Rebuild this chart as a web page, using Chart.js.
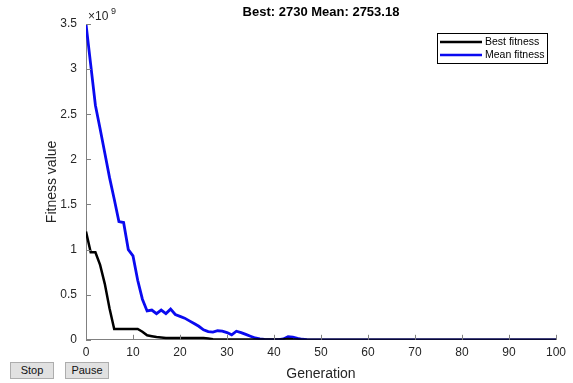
<!DOCTYPE html>
<html>
<head>
<meta charset="utf-8">
<script src="https://cdn.jsdelivr.net/npm/chart.js@4.4.1/dist/chart.umd.min.js"></script>
<style>
  html, body { margin: 0; padding: 0; background: #fff; }
  #wrap { position: relative; width: 573px; height: 383px; }
  canvas { position: absolute; left: 0; top: 0; }
  .btn {
    position: absolute; top: 362px; width: 44px; height: 17px;
    background: #e1e1e1; border: 1px solid #adadad; box-sizing: border-box;
    font: 11px "Liberation Sans", Arial, sans-serif; color: #111;
    text-align: center; line-height: 15px;
  }
</style>
</head>
<body>
<div id="wrap">
  <canvas id="ga" width="573" height="383"></canvas>
  <div class="btn" style="left:10px">Stop</div>
  <div class="btn" style="left:65px">Pause</div>
</div>
<script>
// --- Data (fitness in units of 1e9) ---
const generations = Array.from({ length: 101 }, (_, i) => i);

const bestFitness = [
  1.20, 0.97, 0.97, 0.83, 0.62, 0.35, 0.12, 0.12, 0.12, 0.12,
  0.12, 0.12, 0.09, 0.05, 0.04, 0.03, 0.025, 0.02, 0.02, 0.02,
  0.02, 0.02, 0.02, 0.02, 0.02, 0.02, 0.015, 0.005, 0.003, 0.002,
  0.002, 0.002, 0.002, 0.002, 0.002, 0.002, 0.002, 0.002, 0.002, 0.002,
  0.002, 0.002, 0.005, 0.01, 0.005, 0.002, 0, 0, 0, 0,
  0, 0, 0, 0, 0, 0, 0, 0, 0, 0,
  0, 0, 0, 0, 0, 0, 0, 0, 0, 0,
  0, 0, 0, 0, 0, 0, 0, 0, 0, 0,
  0, 0, 0, 0, 0, 0, 0, 0, 0, 0,
  0, 0, 0, 0, 0, 0, 0, 0, 0, 0,
  0
];

const meanFitness = [
  3.50, 3.05, 2.60, 2.34, 2.07, 1.80, 1.56, 1.31, 1.30, 1.00,
  0.93, 0.66, 0.45, 0.32, 0.33, 0.29, 0.33, 0.29, 0.34, 0.28,
  0.26, 0.24, 0.21, 0.18, 0.15, 0.11, 0.09, 0.085, 0.10, 0.095,
  0.08, 0.055, 0.095, 0.08, 0.06, 0.04, 0.02, 0.01, 0.005, 0.003,
  0.002, 0.003, 0.01, 0.035, 0.03, 0.015, 0.006, 0.002, 0, 0,
  0, 0, 0, 0, 0, 0, 0, 0, 0, 0,
  0, 0, 0, 0, 0, 0, 0, 0, 0, 0,
  0, 0, 0, 0, 0, 0, 0, 0, 0, 0,
  0, 0, 0, 0, 0, 0, 0, 0, 0, 0,
  0, 0, 0, 0, 0, 0, 0, 0, 0, 0,
  0
];

const xTicks = [0, 10, 20, 30, 40, 50, 60, 70, 80, 90, 100];
const yTicks = [0, 0.5, 1, 1.5, 2, 2.5, 3, 3.5];

const titleText = 'Best: 2730 Mean: 2753.18';
const FONT = '"Liberation Sans", Arial, Helvetica, sans-serif';
const TXT = '#262626';
const AXIS = '#808080';

// --- Extras: title, exponent, inward ticks, boxed legend ---
const matlabLook = {
  id: 'matlabLook',
  afterDraw(chart) {
    const { ctx, chartArea: a, scales: { x, y } } = chart;
    ctx.save();

    // inward tick marks
    ctx.strokeStyle = AXIS;
    ctx.lineWidth = 1;
    ctx.beginPath();
    xTicks.forEach(t => {
      const px = Math.round(x.getPixelForValue(t)) + 0.5;
      ctx.moveTo(px, a.bottom);
      ctx.lineTo(px, a.bottom - 5);
    });
    yTicks.forEach(t => {
      const py = Math.round(y.getPixelForValue(t)) + 0.5;
      ctx.moveTo(a.left, py);
      ctx.lineTo(a.left + 5, py);
    });
    ctx.stroke();

    // title
    ctx.fillStyle = '#000';
    ctx.font = 'bold 13px ' + FONT;
    ctx.textAlign = 'center';
    ctx.textBaseline = 'middle';
    ctx.fillText(titleText, (a.left + a.right) / 2, 12);

    // x10^9
    ctx.fillStyle = TXT;
    ctx.textAlign = 'left';
    ctx.font = '12px ' + FONT;
    ctx.fillText('\u00d710', a.left + 2, 17);
    ctx.font = '9px ' + FONT;
    ctx.fillText('9', a.left + 25, 12);

    // legend box
    const lx = 437, ly = 33, lw = 110, lh = 30;
    ctx.fillStyle = '#fff';
    ctx.fillRect(lx, ly, lw, lh);
    ctx.strokeStyle = '#000';
    ctx.lineWidth = 1;
    ctx.strokeRect(lx + 0.5, ly + 0.5, lw, lh);
    ctx.font = '10.5px ' + FONT;
    ctx.textBaseline = 'middle';
    chart.data.datasets.forEach((ds, i) => {
      const ry = ly + 9 + i * 13;
      ctx.strokeStyle = ds.borderColor;
      ctx.lineWidth = 2.5;
      ctx.beginPath();
      ctx.moveTo(lx + 3, ry);
      ctx.lineTo(lx + 45, ry);
      ctx.stroke();
      ctx.fillStyle = '#000';
      ctx.fillText(ds.label, lx + 48, ry);
    });

    ctx.restore();
  }
};

new Chart(document.getElementById('ga'), {
  type: 'line',
  data: {
    datasets: [
      {
        label: 'Best fitness',
        data: generations.map((g, i) => ({ x: g, y: bestFitness[i] })),
        borderColor: '#000000',
        borderWidth: 2.5,
        pointRadius: 0,
        tension: 0,
      },
      {
        label: 'Mean fitness',
        data: generations.map((g, i) => ({ x: g, y: meanFitness[i] })),
        borderColor: '#0a0af0',
        borderWidth: 2.8,
        pointRadius: 0,
        tension: 0,
      },
    ],
  },
  options: {
    responsive: false,
    animation: false,
    layout: { padding: { left: 0, right: 17, top: 24, bottom: 0 } },
    plugins: {
      legend: { display: false },
      tooltip: { enabled: false },
    },
    scales: {
      x: {
        type: 'linear',
        min: 0, max: 100,
        afterBuildTicks: s => { s.ticks = xTicks.map(v => ({ value: v })); },
        grid: { display: false, drawTicks: false, tickLength: 0 },
        border: { color: AXIS, width: 1 },
        ticks: { color: TXT, font: { family: FONT, size: 12 }, padding: 6, maxRotation: 0 },
        title: {
          display: true, text: 'Generation', color: TXT,
          font: { family: FONT, size: 14 }, padding: { top: 0, bottom: 0 },
        },
      },
      y: {
        min: 0, max: 3.5,
        afterBuildTicks: s => { s.ticks = yTicks.map(v => ({ value: v })); },
        afterFit: s => { s.width = 86; },
        grid: { display: false, drawTicks: false, tickLength: 0 },
        border: { color: AXIS, width: 1 },
        ticks: { color: TXT, font: { family: FONT, size: 12 }, padding: 9, callback: v => String(v) },
        title: {
          display: true, text: 'Fitness value', color: TXT,
          font: { family: FONT, size: 14 }, padding: { top: 44, bottom: 0 },
        },
      },
    },
  },
  plugins: [matlabLook],
});
</script>
</body>
</html>
